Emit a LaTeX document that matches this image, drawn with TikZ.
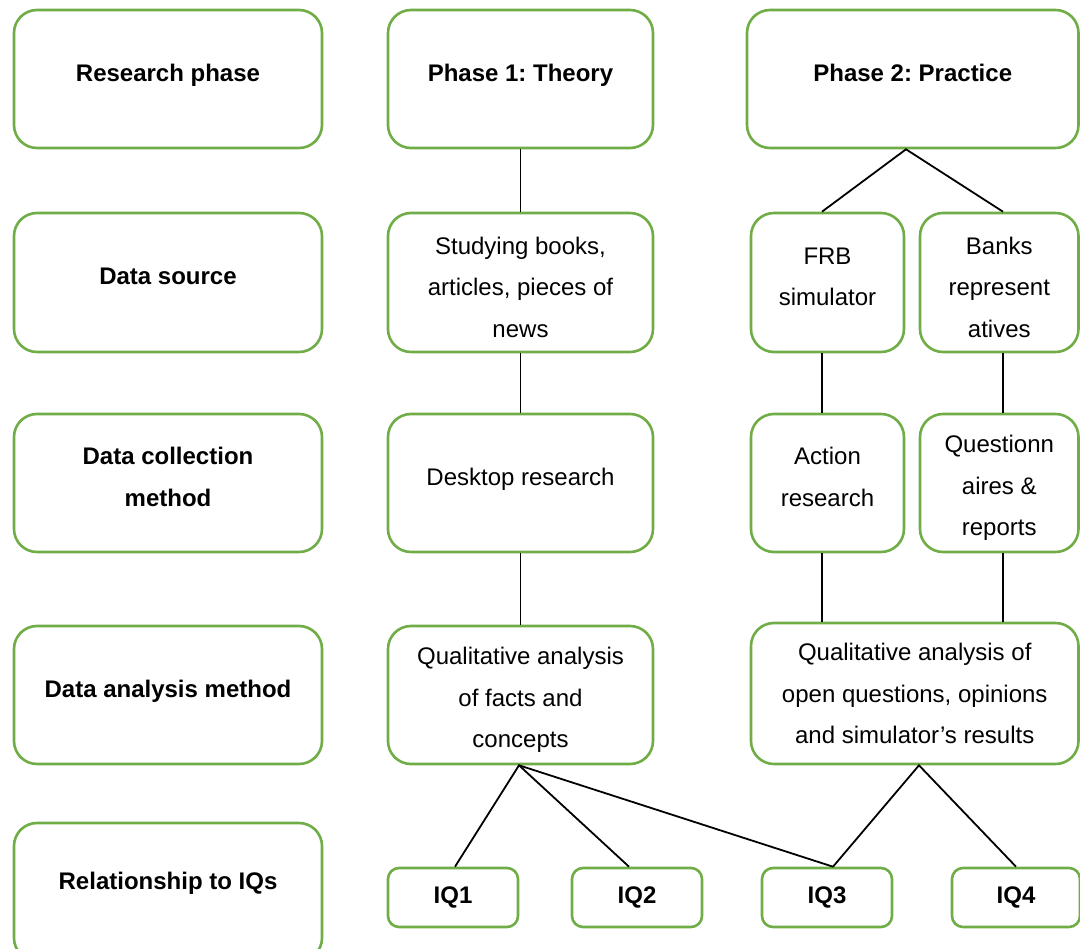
\documentclass[tikz,border=0pt]{standalone}
\usepackage{fontspec}
\setmainfont{Liberation Sans}
\definecolor{grn}{HTML}{70AD47}
\newcommand\dn[1][12pt]{\rule[-#1]{0pt}{#1}}
\newcommand\upr{\rule{0pt}{27pt}}
\frenchspacing
\begin{document}
\begin{tikzpicture}[x=1pt,y=-1pt,
  box/.style 2 args={draw=grn, line width=2.6pt, rounded corners=23pt, align=center,
    inner sep=0pt, font=\fontsize{24}{41.5}\selectfont, fill=white,
    minimum width=#1, minimum height=#2},
  iq/.style={box={130pt}{59pt}, rounded corners=11pt, font=\fontsize{24}{41.5}\selectfont\bfseries},
  hd/.style={font=\fontsize{24}{41.5}\selectfont\bfseries},
  conn/.style={draw=black, line width=1.8pt}]
\useasboundingbox (0,0) rectangle (1080,949);
% left column
\node[box={308pt}{138pt}, hd] (rp)  at (168,79)    {Research phase\dn};
\node[box={308pt}{139pt}, hd] (ds)  at (168,282.5) {Data source\dn};
\node[box={308pt}{138pt}, hd] (dcm) at (168,483)   {Data collection\\method\dn};
\node[box={308pt}{138pt}, hd] (dam) at (168,695)   {Data analysis method\dn};
\node[box={308pt}{138pt}, hd] (rel) at (168,892)   {Relationship to IQs\dn[23pt]};
% middle column
\node[box={265pt}{138pt}, hd] (p1)  at (520.5,79)    {Phase 1: Theory\dn};
\node[box={265pt}{139pt}]     (sb)  at (520.5,282.5) {\upr Studying books,\\articles, pieces of\\news};
\node[box={265pt}{138pt}]     (dr)  at (520.5,483)   {Desktop research\dn};
\node[box={265pt}{138pt}]     (qa1) at (520.5,695)   {\upr Qualitative analysis\\of facts and\\concepts};
% right column
\node[box={331.5pt}{138pt}, hd] (p2) at (912.75,79) {Phase 2: Practice\dn};
\node[box={153pt}{139pt}]   (frb)   at (827.5,282.5)  {FRB\\simulator\dn};
\node[box={158.5pt}{139pt}] (banks) at (999.25,282.5) {\upr Banks\\represent\\atives};
\node[box={153pt}{138pt}]   (act)   at (827.5,483)    {Action\\research\dn};
\node[box={158.5pt}{138pt}] (quest) at (999.25,483)   {\upr Questionn\\aires \&\\reports};
\node[box={327.5pt}{141pt}] (qa2)   at (914.75,693.5) {Qualitative analysis of\\open questions, opinions\\and simulator’s results};
% IQs
\node[iq] (iq1) at (453,897.5)  {IQ1};
\node[iq] (iq2) at (637,897.5)  {IQ2};
\node[iq] (iq3) at (827,897.5)  {IQ3};
\node[iq, minimum width=128pt] (iq4) at (1016,897.5) {IQ4};
% connectors
\draw[conn] (p1.south) -- (sb.north);
\draw[conn] (sb.south) -- (dr.north);
\draw[conn] (dr.south) -- (qa1.north);
\draw[conn] ([xshift=-5.5pt]frb.north) -- ([xshift=-6.75pt]p2.south) -- ([xshift=3.75pt]banks.north);
\draw[conn] ([xshift=-5.5pt]frb.south) -- ([xshift=-5.5pt]act.north);
\draw[conn] ([xshift=3.75pt]banks.south) -- ([xshift=3.75pt]quest.north);
\draw[conn] ([xshift=-5.5pt]act.south) -- ([xshift=-5.5pt]act.south |- qa2.north);
\draw[conn] ([xshift=3.75pt]quest.south) -- ([xshift=3.75pt]quest.south |- qa2.north);
\draw[conn] ([xshift=2pt]iq1.north) -- ([xshift=-1.5pt]qa1.south) -- ([xshift=-8pt]iq2.north);
\draw[conn] ([xshift=-1.5pt]qa1.south) -- ([xshift=6pt]iq3.north);
\draw[conn] ([xshift=6pt]iq3.north) -- ([xshift=4.25pt]qa2.south) -- (iq4.north);
\end{tikzpicture}
\end{document}
